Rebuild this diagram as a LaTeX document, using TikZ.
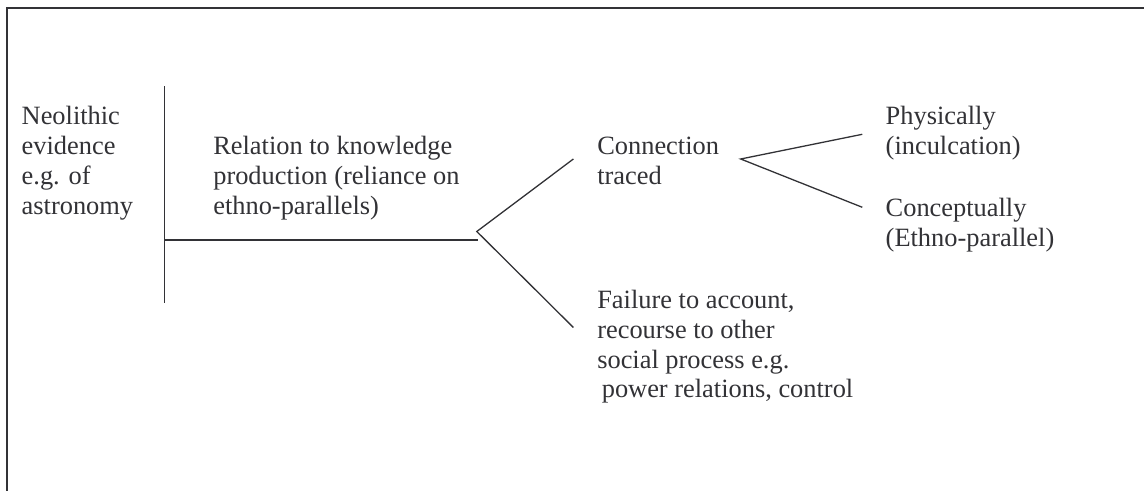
\documentclass[tikz,border=0pt]{standalone}
\usepackage{fontspec}
\setmainfont{Liberation Serif}
\definecolor{ink}{RGB}{50,50,54}
\begin{document}
\begin{tikzpicture}[x=1bp,y=-1bp,
  label text/.style={anchor=base west,inner sep=0pt,outer sep=0pt,align=left,
    text=ink,font=\fontsize{26.4bp}{29.8bp}\selectfont},
  rule/.style={draw=ink,line width=1.3bp},
  frame/.style={draw=ink,line width=1.6bp}]
\useasboundingbox (0,0) rectangle (1144,491);

% open frame: top and left edges only
\draw[frame] (6.8,491) -- (6.8,7.8) -- (1144,7.8);

% text blocks (positioned by the baseline of their last line)
\node[label text] (neo)  at (21.7,214.4)  {Neolithic\\evidence\\e.g. of\\astronomy};
\node[label text] (rel)  at (213.3,214.6) {Relation to knowledge\\production (reliance on\\ethno-parallels)};
\node[label text] (conn) at (597.3,184.8) {Connection\\traced};
\node[label text] (fail) at (597.3,397.9) {Failure to account,\\recourse to other\\social process e.g.\\\hspace*{4.5bp}power relations, control};
\node[label text] (phys) at (885.7,154.8) {Physically\\(inculcation)};
\node[label text] (conc) at (885.7,246.3) {Conceptually\\(Ethno-parallel)};

% branch points
\coordinate (divtop) at (164.5,86.5);
\coordinate (divbot) at (164.5,303.5);
\coordinate (hstart) at (164.5,240);
\coordinate (hend)   at (477.8,240);
\coordinate (forkA)  at (476.8,231.5);
\coordinate (toConn) at (573.4,159);
\coordinate (toFail) at (573.4,327.5);
\coordinate (forkB)  at (740.7,159);
\coordinate (toPhys) at (862.3,134.3);
\coordinate (toConc) at (862.3,207.3);

% connectors
\draw[rule] (divtop) -- (divbot);
\draw[rule] (hstart) -- (hend);
\draw[rule] (toConn) -- (forkA) -- (toFail);
\draw[rule] (toPhys) -- (forkB) -- (toConc);
\end{tikzpicture}
\end{document}
